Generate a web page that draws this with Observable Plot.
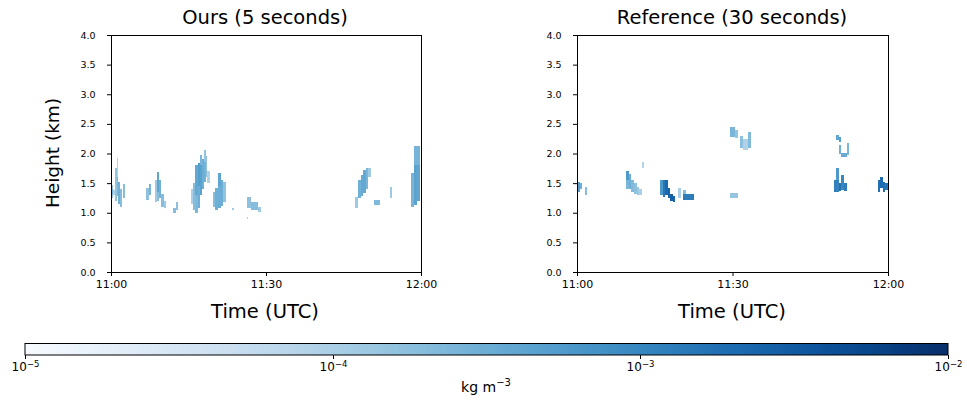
<!DOCTYPE html>
<html>
<head>
<meta charset="utf-8">
<script src="https://cdn.jsdelivr.net/npm/d3@7"></script>
<script src="https://cdn.jsdelivr.net/npm/@observablehq/plot@0.6"></script>
<style>
  body { margin: 0; background: #fff; font-family: "DejaVu Sans", sans-serif; }
  #root { position: relative; width: 967px; height: 404px; overflow: hidden; }
  .abs { position: absolute; }
  .lbl { position: absolute; transform: translate(-50%, -50%); white-space: nowrap; color: #000; }
</style>
</head>
<body>
<div id="root">
  <div id="left" class="abs" style="left:0;top:0"></div>
  <div id="right" class="abs" style="left:480px;top:0"></div>
  <div id="cbar" class="abs" style="left:0;top:343px"></div>
  <div class="lbl" style="left:265px;top:17px;font-size:19.5px">Ours (5 seconds)</div>
  <div class="lbl" style="left:732px;top:17px;font-size:19.5px">Reference (30 seconds)</div>
  <div class="lbl" style="left:265px;top:311px;font-size:19.5px">Time (UTC)</div>
  <div class="lbl" style="left:732px;top:311px;font-size:19.5px">Time (UTC)</div>
  <div class="lbl" style="left:52px;top:153px;font-size:18.5px;transform:translate(-50%,-50%) rotate(-90deg)">Height (km)</div>
  <div class="lbl" style="left:486px;top:386px;font-size:14px">kg m<sup style="font-size:10px">−3</sup></div>
</div>
<script>
// Tick definitions
const timeTicks = [0, 30, 60];                       // minutes after 11:00 UTC
const timeTickLabels = ["11:00", "11:30", "12:00"];
const heightTicks = [0, 0.5, 1.0, 1.5, 2.0, 2.5, 3.0, 3.5, 4.0];
const colorTicks = [1e-5, 1e-4, 1e-3, 1e-2];
const colorTickExponents = ["−5", "−4", "−3", "−2"];

// Cells: [start min, end min, bottom km, top km, value kg m^-3]
const oursCells = [
  [0.0, 0.4, 1.25, 1.47, 1.6e-4],
  [0.0, 0.4, 1.32, 1.40, 2.6e-4],
  [0.4, 0.8, 1.30, 1.38, 1.0e-4],
  [0.8, 1.1, 1.20, 1.75, 1.6e-4],
  [1.1, 1.35, 1.60, 1.92, 0.9e-4],
  [1.1, 1.35, 1.28, 1.60, 2.4e-4],
  [1.35, 1.7, 1.15, 1.52, 3.0e-4],
  [1.7, 2.1, 1.10, 1.40, 2.0e-4],
  [2.3, 2.7, 1.25, 1.49, 2.0e-4],
  [6.8, 7.3, 1.22, 1.42, 1.7e-4],
  [7.3, 7.7, 1.30, 1.49, 2.6e-4],
  [8.5, 8.9, 1.18, 1.55, 1.3e-4],
  [8.9, 9.3, 1.35, 1.69, 4.2e-4],
  [8.9, 9.3, 1.20, 1.35, 2.0e-4],
  [9.3, 9.7, 1.25, 1.55, 2.8e-4],
  [9.7, 10.2, 1.10, 1.32, 2.0e-4],
  [10.2, 10.6, 1.08, 1.20, 1.3e-4],
  [12.0, 12.5, 1.00, 1.08, 2.0e-4],
  [12.5, 13.0, 1.04, 1.18, 1.7e-4],
  [15.5, 15.8, 1.15, 1.40, 1.0e-4],
  [15.8, 16.3, 1.05, 1.50, 2.0e-4],
  [16.3, 16.8, 1.00, 1.30, 2.3e-4],
  [16.3, 16.8, 1.30, 1.80, 3.8e-4],
  [16.8, 17.2, 1.08, 1.45, 3.2e-4],
  [16.8, 17.2, 1.45, 1.84, 5.0e-4],
  [17.2, 17.6, 1.30, 1.80, 4.5e-4],
  [17.2, 17.6, 1.80, 1.97, 2.5e-4],
  [17.6, 18.0, 1.40, 1.90, 3.2e-4],
  [18.0, 18.3, 1.52, 1.85, 2.8e-4],
  [18.0, 18.3, 1.85, 2.06, 1.6e-4],
  [18.3, 18.6, 1.60, 1.95, 1.6e-4],
  [18.6, 19.2, 1.50, 1.70, 0.9e-4],
  [19.7, 20.2, 1.10, 1.35, 2.0e-4],
  [20.2, 20.7, 1.04, 1.42, 3.0e-4],
  [20.7, 21.2, 1.08, 1.45, 3.2e-4],
  [20.7, 21.2, 1.45, 1.67, 4.2e-4],
  [21.2, 21.7, 1.12, 1.55, 3.2e-4],
  [21.7, 22.3, 1.18, 1.52, 1.6e-4],
  [23.5, 23.8, 1.04, 1.08, 1.3e-4],
  [26.3, 27.1, 1.08, 1.27, 1.7e-4],
  [27.1, 28.4, 1.05, 1.18, 2.0e-4],
  [28.4, 29.0, 1.01, 1.10, 1.3e-4],
  [26.3, 26.5, 0.90, 0.93, 1.0e-4],
  [47.2, 47.8, 1.08, 1.27, 1.3e-4],
  [47.8, 48.3, 1.25, 1.55, 3.0e-4],
  [48.3, 48.8, 1.28, 1.64, 3.6e-4],
  [48.8, 49.3, 1.33, 1.72, 3.8e-4],
  [49.3, 49.7, 1.40, 1.75, 2.5e-4],
  [49.7, 50.3, 1.60, 1.75, 1.3e-4],
  [50.9, 52.1, 1.13, 1.22, 2.3e-4],
  [54.0, 54.4, 1.25, 1.43, 1.3e-4],
  [58.0, 58.6, 1.10, 1.67, 2.6e-4],
  [58.6, 59.2, 1.13, 1.80, 4.5e-4],
  [59.2, 59.8, 1.20, 1.85, 4.0e-4],
  [58.6, 59.8, 1.80, 2.12, 2.6e-4]
];

const refCells = [
  [0.0, 0.5, 1.35, 1.52, 5e-4],
  [0.5, 1.0, 1.40, 1.50, 3e-4],
  [1.5, 2.0, 1.30, 1.44, 2.0e-4],
  [9.5, 10.0, 1.55, 1.70, 6e-4],
  [9.5, 10.0, 1.40, 1.55, 2.5e-4],
  [10.0, 10.5, 1.40, 1.65, 3e-4],
  [10.5, 11.0, 1.35, 1.55, 2.2e-4],
  [11.0, 11.5, 1.32, 1.50, 1.8e-4],
  [11.5, 12.0, 1.30, 1.43, 1.3e-4],
  [12.0, 12.5, 1.30, 1.40, 1.0e-4],
  [12.5, 13.0, 1.75, 1.85, 0.8e-4],
  [16.0, 16.5, 1.30, 1.55, 6e-4],
  [16.5, 17.0, 1.27, 1.55, 1.5e-3],
  [17.0, 17.5, 1.30, 1.55, 2.2e-3],
  [17.5, 18.0, 1.25, 1.42, 2.5e-3],
  [18.0, 18.5, 1.20, 1.32, 3e-3],
  [18.5, 19.0, 1.18, 1.28, 2.5e-3],
  [19.5, 20.0, 1.25, 1.42, 1.0e-4],
  [20.5, 21.0, 1.32, 1.38, 2e-4],
  [20.5, 22.5, 1.22, 1.32, 1.3e-3],
  [29.5, 30.5, 2.28, 2.45, 2.5e-4],
  [30.5, 31.0, 2.26, 2.40, 1.5e-4],
  [31.5, 32.0, 2.10, 2.30, 1.8e-4],
  [32.0, 33.0, 2.06, 2.25, 0.9e-4],
  [33.0, 33.5, 2.10, 2.36, 2.2e-4],
  [29.5, 31.0, 1.25, 1.33, 1.5e-4],
  [50.0, 50.5, 2.22, 2.31, 4e-4],
  [50.5, 51.0, 2.19, 2.28, 5e-4],
  [50.5, 51.0, 2.00, 2.15, 3e-4],
  [51.0, 52.0, 1.94, 2.01, 3.5e-4],
  [52.0, 52.5, 1.97, 2.18, 2.5e-4],
  [49.5, 50.0, 1.35, 1.55, 1.2e-3],
  [50.0, 50.5, 1.55, 1.75, 6e-4],
  [50.0, 50.5, 1.35, 1.55, 1.1e-3],
  [50.5, 51.0, 1.37, 1.50, 1.8e-3],
  [51.0, 51.5, 1.38, 1.64, 1e-3],
  [51.5, 52.0, 1.37, 1.50, 1.3e-3],
  [58.0, 58.5, 1.35, 1.55, 1.8e-3],
  [58.5, 59.0, 1.42, 1.60, 2e-3],
  [59.0, 59.5, 1.35, 1.52, 1.8e-3],
  [59.5, 60.0, 1.38, 1.50, 1.5e-3]
];

const colorScale = { type: "log", domain: [1e-5, 1e-2], scheme: "blues" };

function panel(cells, width, marginLeft, marginRight) {
  return Plot.plot({
    width, height: 330,
    marginLeft, marginRight, marginTop: 35, marginBottom: 58,
    style: { fontFamily: "DejaVu Sans", background: "white", color: "#000", overflow: "visible" },
    x: { domain: [0, 60] },
    y: { domain: [0, 4] },
    color: colorScale,
    marks: [
      Plot.rect(cells, {
        x1: d => d[0], x2: d => d[1], y1: d => d[2], y2: d => d[3],
        fill: d => d[4], shapeRendering: "crispEdges"
      }),
      Plot.frame({ stroke: "#000", strokeWidth: 1 }),
      Plot.axisX({
        ticks: timeTicks, tickFormat: (d) => timeTickLabels[timeTicks.indexOf(d)],
        tickSize: 4, tickPadding: 4, fontSize: 11, label: null
      }),
      Plot.axisY({
        ticks: heightTicks, tickFormat: d3.format(".1f"),
        tickSize: 4, tickPadding: 12, fontSize: 9.5, label: null
      })
    ]
  });
}

document.getElementById("left").appendChild(panel(oursCells, 480, 111, 59));
document.getElementById("right").appendChild(panel(refCells, 487, 97, 79));

const cbML = 25, cbMR = 19, cbBar = 12;
const legend = Plot.legend({
  color: colorScale,
  width: 967, height: cbBar + 32,
  marginLeft: cbML, marginRight: cbMR, marginTop: 0, marginBottom: 32,
  ticks: colorTicks,
  tickSize: 4,
  tickFormat: d => "10",
  style: { fontFamily: "DejaVu Sans", fontSize: "12px", color: "#000", overflow: "visible" }
});
legend.querySelectorAll(".tick line").forEach(l => l.setAttribute("y1", 0));
legend.querySelectorAll(".tick text").forEach((t, i) => {
  const sup = document.createElementNS("http://www.w3.org/2000/svg", "tspan");
  sup.setAttribute("dy", "-0.45em");
  sup.setAttribute("font-size", "8.5px");
  sup.textContent = colorTickExponents[i];
  t.appendChild(sup);
});
const border = document.createElementNS("http://www.w3.org/2000/svg", "rect");
border.setAttribute("x", cbML);
border.setAttribute("y", 0.5);
border.setAttribute("width", 967 - cbML - cbMR);
border.setAttribute("height", cbBar - 0.5);
border.setAttribute("fill", "none");
border.setAttribute("stroke", "#000");
border.setAttribute("stroke-width", 1);
legend.appendChild(border);
document.getElementById("cbar").appendChild(legend);
</script>
</body>
</html>
